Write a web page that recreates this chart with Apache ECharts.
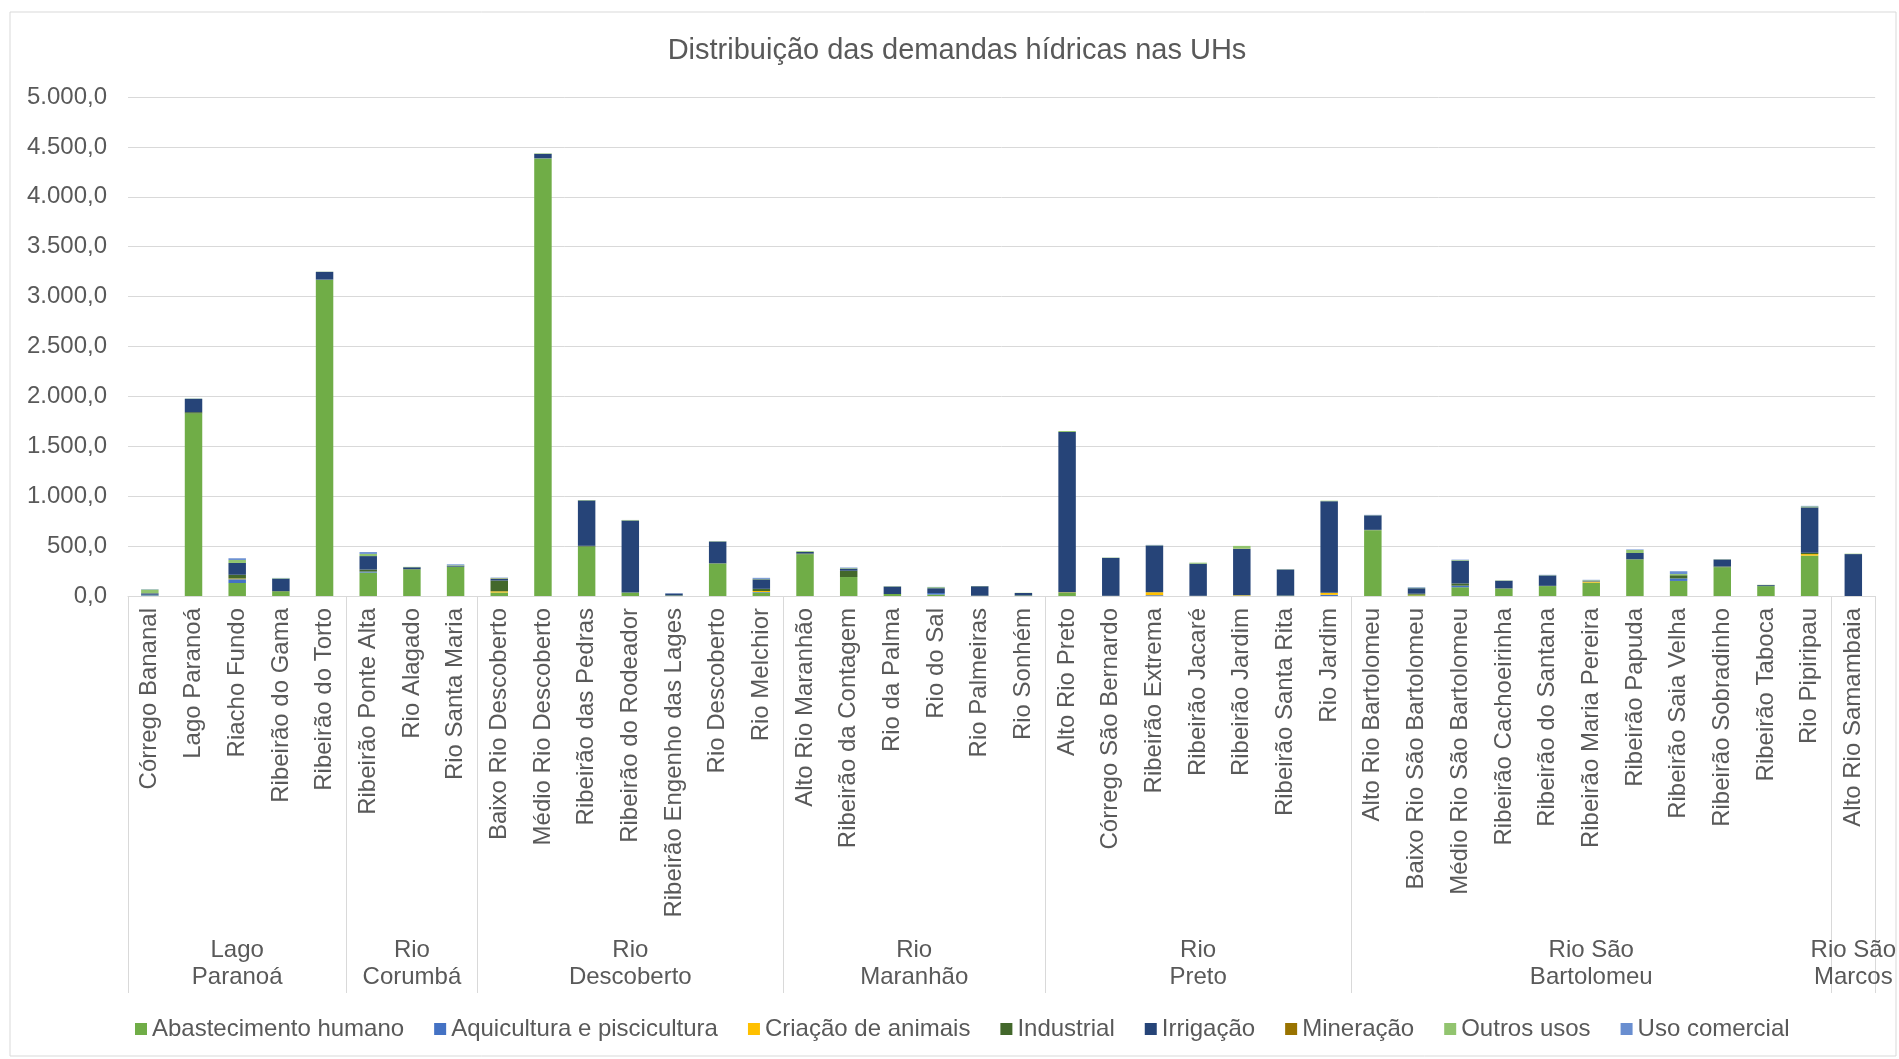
<!DOCTYPE html>
<html>
<head>
<meta charset="utf-8">
<script src="https://cdn.jsdelivr.net/npm/echarts@6/dist/echarts.min.js"></script>
<style>
html,body{margin:0;padding:0;background:#fff;}
#chart{width:1899px;height:1059px;}
</style>
</head>
<body>
<div id="chart"></div>
<script>
var categories = ["Córrego Bananal","Lago Paranoá","Riacho Fundo","Ribeirão do Gama","Ribeirão do Torto",
"Ribeirão Ponte Alta","Rio Alagado","Rio Santa Maria",
"Baixo Rio Descoberto","Médio Rio Descoberto","Ribeirão das Pedras","Ribeirão do Rodeador","Ribeirão Engenho das Lages","Rio Descoberto","Rio Melchior",
"Alto Rio Maranhão","Ribeirão da Contagem","Rio da Palma","Rio do Sal","Rio Palmeiras","Rio Sonhém",
"Alto Rio Preto","Córrego São Bernardo","Ribeirão Extrema","Ribeirão Jacaré","Ribeirão Jardim","Ribeirão Santa Rita","Rio Jardim",
"Alto Rio Bartolomeu","Baixo Rio São Bartolomeu","Médio Rio São Bartolomeu","Ribeirão Cachoeirinha","Ribeirão do Santana","Ribeirão Maria Pereira","Ribeirão Papuda","Ribeirão Saia Velha","Ribeirão Sobradinho","Ribeirão Taboca","Rio Pipiripau",
"Alto Rio Samambaia"];

var groupNames = ["Lago\nParanoá","Rio\nCorumbá","Rio\nDescoberto","Rio\nMaranhão","Rio\nPreto","Rio São\nBartolomeu","Rio São\nMarcos"];
var groupSizes = [5,3,7,6,7,11,1];

var seriesNames = ["Abastecimento humano","Aquicultura e piscicultura","Criação de animais","Industrial","Irrigação","Mineração","Outros usos","Uso comercial"];

var abastecimento = [5,1830,130,45,3170, 235,265,294, 35,4385,495,35,5,325,35, 418,190,20,15,3,5, 35,2,0,2,3,4,0, 660,8,88,74,99,134,366,151,288,99,405, 0];
var aquicultura   = [8,0,38,0,0, 10,0,0, 0,0,0,0,0,0,5, 0,0,0,15,0,0, 0,0,8,0,0,0,12, 0,0,16,0,0,0,0,25,0,0,0, 0];
var criacao       = [0,0,7,0,0, 0,0,0, 12,0,0,0,0,0,10, 0,0,0,0,0,0, 3,0,30,0,5,0,20, 0,5,0,0,0,10,0,0,0,0,15, 0];
var industrial    = [0,12,38,5,0, 20,5,0, 108,0,8,0,0,3,22, 8,63,0,0,0,0, 0,0,0,0,0,0,0, 3,10,22,3,3,0,3,32,8,0,13, 0];
var irrigacao     = [14,133,118,123,78, 135,18,10, 18,45,455,722,20,218,95, 15,22,75,48,95,25, 1605,380,468,322,463,262,918, 145,55,228,76,104,5,62,0,70,10,455, 420];
var mineracao     = [0,0,0,0,0, 0,0,0, 3,0,0,0,0,0,0, 0,0,0,0,0,0, 0,0,0,0,3,0,0, 0,0,0,0,0,0,0,0,0,0,0, 0];
var outros        = [38,3,30,5,2, 22,4,5, 4,5,4,5,0,3,5, 8,5,3,10,2,2, 10,3,3,10,28,2,5, 2,5,6,3,3,8,30,12,2,3,10, 4];
var comercial     = [3,2,17,3,0, 18,0,8, 4,0,0,0,3,0,10, 0,5,0,3,0,0, 0,0,3,0,0,0,0, 3,5,4,0,3,5,5,28,0,0,5, 0];

var yTicks = [0,500,1000,1500,2000,2500,3000,3500,4000,4500,5000];

var colors = ["#70AD47","#4472C4","#FFC000","#43682B","#264478","#997300","#92C46F","#698ED0"];
var seriesData = [abastecimento,aquicultura,criacao,industrial,irrigacao,mineracao,outros,comercial];

// group boundaries and centers derived from group sizes
var bounds = [0], centers = [];
groupSizes.forEach(function(s){ var b = bounds[bounds.length-1]; centers.push(b + s/2); bounds.push(b + s); });

function fmtBR(v){
  var s = Math.round(v).toString().replace(/\B(?=(\d{3})+(?!\d))/g, ".");
  return s + ",0";
}

var font = "'Liberation Sans', Arial, sans-serif";
var chart = echarts.init(document.getElementById('chart'), null, {renderer:'canvas'});

var series = seriesNames.map(function(n,i){
  return {
    name: n, type: 'bar', stack: 'total', barWidth: '40%',
    xAxisIndex: 0, yAxisIndex: 0,
    itemStyle: {color: colors[i]},
    data: seriesData[i]
  };
});

chart.setOption({
  animation: false,
  textStyle: {fontFamily: font},
  title: {
    text: 'Distribuição das demandas hídricas nas UHs',
    left: 952, top: 31, textAlign: 'center',
    textStyle: {fontSize: 29, fontWeight: 'normal', color: '#595959', fontFamily: font}
  },
  graphic: [{
    type: 'rect', shape: {x: 10, y: 12, width: 1886, height: 1044},
    style: {fill: 'none', stroke: '#d9d9d9', lineWidth: 1}, silent: true, z: -1
  }],
  legend: {
    left: 130, top: 1012, itemWidth: 12, itemHeight: 12, itemGap: 30, icon: 'rect',
    textStyle: {fontSize: 24, color: '#595959', fontFamily: font},
    data: seriesNames
  },
  grid: {left: 128, right: 23, top: 97, bottom: 463, containLabel: false},
  xAxis: [{
    type: 'category', data: categories, position: 'bottom',
    axisLine: {show: true, lineStyle: {color: '#d9d9d9', width: 1}},
    axisTick: {show: false},
    axisLabel: {rotate: 90, interval: 0, fontSize: 24, color: '#595959', margin: 12, fontFamily: font}
  }, {
    type: 'value', min: 0, max: categories.length, position: 'bottom',
    axisLine: {show: false},
    splitLine: {show: false},
    axisTick: {show: true, customValues: bounds, length: 397, lineStyle: {color: '#d9d9d9', width: 1}},
    axisLabel: {
      customValues: centers, margin: 341, fontSize: 24, lineHeight: 27, color: '#595959', fontFamily: font,
      verticalAlign: 'top',
      formatter: function(v){ var k = centers.indexOf(v); return k >= 0 ? groupNames[k] : ''; }
    }
  }],
  yAxis: {
    type: 'value', min: yTicks[0], max: yTicks[yTicks.length-1], interval: yTicks[1]-yTicks[0],
    axisLine: {show: false}, axisTick: {show: false},
    splitLine: {lineStyle: {color: '#d9d9d9', width: 1}},
    axisLabel: {fontSize: 24, color: '#595959', margin: 21, formatter: fmtBR, fontFamily: font}
  },
  series: series
});
</script>
</body>
</html>
